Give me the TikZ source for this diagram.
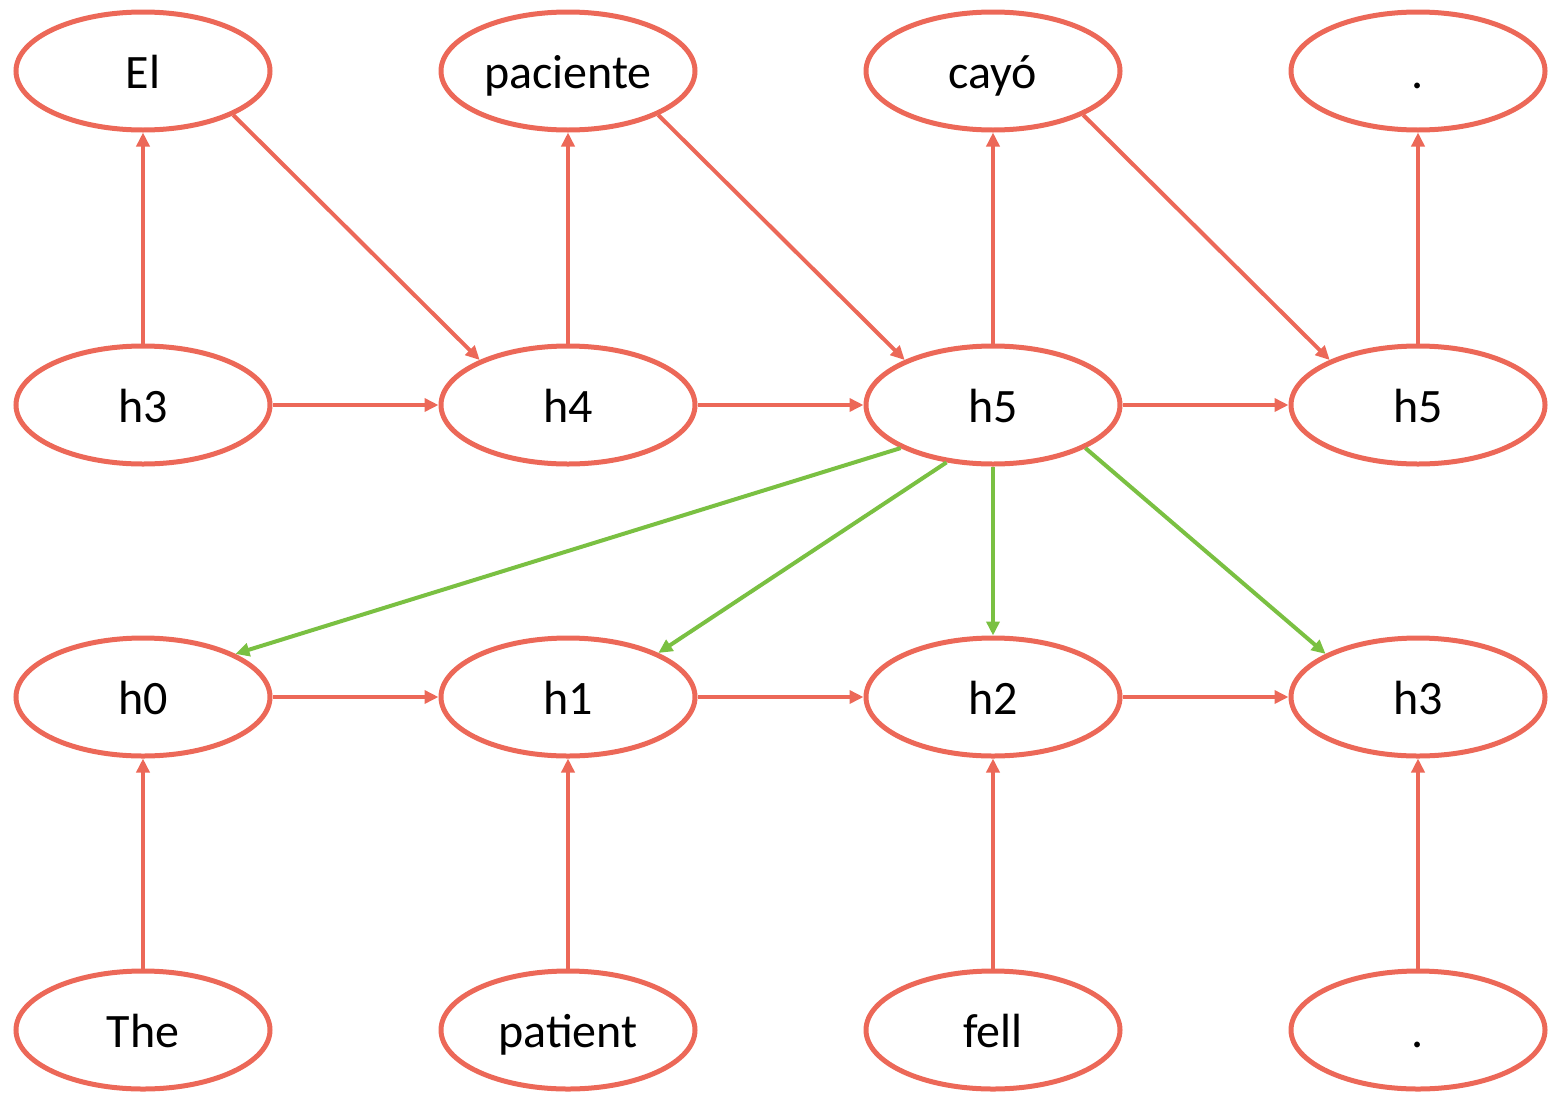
\documentclass[tikz,border=0pt]{standalone}
\usepackage{fontspec}
\setmainfont{Carlito}
\usetikzlibrary{arrows.meta,shapes.geometric}
\definecolor{nodered}{RGB}{236,104,88}
\definecolor{arrgreen}{RGB}{122,192,66}
\begin{document}
\begin{tikzpicture}[x=1pt,y=-1pt,
  word/.style={ellipse,draw=nodered,line width=5pt,minimum width=254pt,minimum height=118pt,inner sep=0pt,text height=35pt,text depth=0pt,font=\fontsize{48}{52}\selectfont,text=black},
  redarr/.style={draw=nodered,line width=4pt,-{Triangle[length=14pt,width=13pt]}},
  greenarr/.style={draw=arrgreen,line width=4pt,-{Triangle[length=14pt,width=13pt]}}]
\useasboundingbox (0,0) rectangle (1552,1092);
% top row
\node[word] (el) at (143,71) {El};
\node[word] (paciente) at (568,71) {paciente};
\node[word] (cayo) at (993,71) {cayó};
\node[word] (dot1) at (1418,71) {.};
% decoder hidden
\node[word] (d3) at (143,405) {h3};
\node[word] (d4) at (568,405) {h4};
\node[word] (d5) at (993,405) {h5};
\node[word] (d6) at (1418,405) {h5};
% encoder hidden
\node[word] (e0) at (143,697) {h0};
\node[word] (e1) at (568,697) {h1};
\node[word] (e2) at (993,697) {h2};
\node[word] (e3) at (1418,697) {h3};
% inputs
\node[word] (the) at (143,1030) {The};
\node[word] (patient) at (568,1030) {patient};
\node[word] (fell) at (993,1030) {fell};
\node[word] (dot2) at (1418,1030) {.};
% vertical arrows top
\draw[redarr] (d3.north) -- (el.south);
\draw[redarr] (d4.north) -- (paciente.south);
\draw[redarr] (d5.north) -- (cayo.south);
\draw[redarr] (d6.north) -- (dot1.south);
% diagonals top
\draw[redarr] (el.-26) -- (d4.153);
\draw[redarr] (paciente.-26) -- (d5.153);
\draw[redarr] (cayo.-26) -- (d6.153);
% horizontal decoder
\draw[redarr] (d3.east) -- (d4.west);
\draw[redarr] (d4.east) -- (d5.west);
\draw[redarr] (d5.east) -- (d6.west);
% horizontal encoder
\draw[redarr] (e0.east) -- (e1.west);
\draw[redarr] (e1.east) -- (e2.west);
\draw[redarr] (e2.east) -- (e3.west);
% input arrows
\draw[redarr] (the.north) -- (e0.south);
\draw[redarr] (patient.north) -- (e1.south);
\draw[redarr] (fell.north) -- (e2.south);
\draw[redarr] (dot2.north) -- (e3.south);
% attention (green)
\draw[greenarr] (d5.205) -- (e0.25);
\draw[greenarr] (d5.231) -- (e1.26);
\draw[greenarr] (d5.south) -- (e2.north);
\draw[greenarr] (d5.-25) -- (e3.155);
\end{tikzpicture}
\end{document}
